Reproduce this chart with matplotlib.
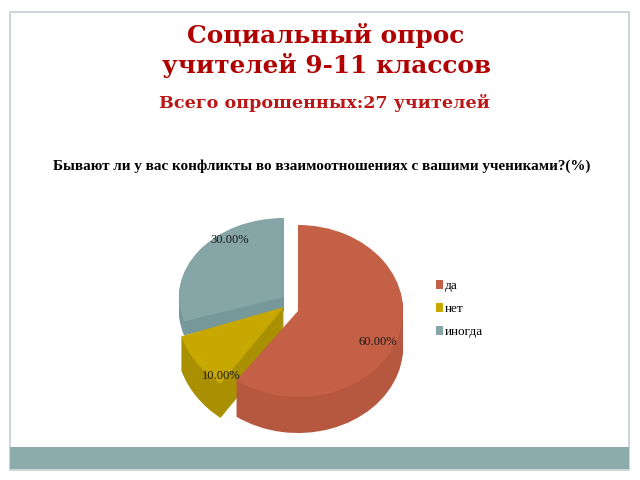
import matplotlib
matplotlib.use('Agg')
import matplotlib.pyplot as plt
from matplotlib.patches import Rectangle, Patch
from matplotlib.transforms import Affine2D

# chart data
labels = ['да', 'нет', 'иногда']
values = [60, 10, 30]
value_labels = ['60.00%', '10.00%', '30.00%']

top_colors = ['#c46045', '#c6a800', '#86a5a6']
side_colors = ['#b5583f', '#a89000', '#76989a']

title_lines = ['Социальный опрос', 'учителей 9-11 классов']
subtitle = 'Всего опрошенных:27 учителей'
question = 'Бывают ли у вас конфликты во взаимоотношениях с вашими учениками?(%)'

fig = plt.figure(figsize=(6.4, 4.8), dpi=100)
ax = fig.add_axes([0, 0, 1, 1])


def draw_slice(idx, cx, cy, rx, ry, color, zorder):
    # one pie call per slice, the other slices stay invisible
    cols = ['none'] * len(values)
    cols[idx] = color
    wedges, _ = ax.pie(values, colors=cols, startangle=90, counterclock=False)
    for w in wedges:
        w.set_transform(Affine2D().scale(rx, ry).translate(cx, 480 - cy) + ax.transData)
        w.set_zorder(zorder)
        w.set_linewidth(0)


# blue slice, side first then the top
for d in range(14, 0, -1):
    draw_slice(2, 284, 297 + d, 105, 79, side_colors[2], 2)
draw_slice(2, 284, 297, 105, 79, top_colors[2], 3)

# yellow slice
for d in range(34, 0, -1):
    draw_slice(1, 284, 307 + d, 108, 95, side_colors[1], 4)
draw_slice(1, 284, 307, 108, 95, top_colors[1], 5)

# red slice
for d in range(36, 0, -1):
    draw_slice(0, 298, 311 + d, 105, 86, side_colors[0], 6)
draw_slice(0, 298, 311, 105, 86, top_colors[0], 7)

ax.set_aspect('auto')
ax.set_xlim(0, 640)
ax.set_ylim(0, 480)
ax.axis('off')

# slide frame and bottom bar
ax.add_patch(Rectangle((10, 480 - 470), 619, 458, fill=False, ec='#c4cfd0', lw=1.2, zorder=1))
ax.add_patch(Rectangle((10, 480 - 469), 619, 22, fc='#8bacaa', ec='none', zorder=1))

red = '#b00000'
ax.text(326, 480 - 36, title_lines[0], family='DejaVu Serif', weight='bold', fontsize=17.8,
        color=red, ha='center', va='center')
ax.text(326, 480 - 66, title_lines[1], family='DejaVu Serif', weight='bold', fontsize=17.8,
        color=red, ha='center', va='center')
ax.text(324, 480 - 103, subtitle, family='DejaVu Serif', weight='bold', fontsize=12.6,
        color='#bb1515', ha='center', va='center')
ax.text(322, 480 - 166, question, family='Liberation Serif', weight='bold', fontsize=10.9,
        color='black', ha='center', va='center')

label_pos = [(378, 342), (221, 376), (230, 240)]
for txt, (x, y) in zip(value_labels, label_pos):
    ax.text(x, 480 - y, txt, family='Liberation Serif', fontsize=9, color='#1a1a1a',
            ha='center', va='center', zorder=10)

handles = [Patch(fc=c, ec='none') for c in top_colors]
ax.legend(handles, labels, loc='upper left', bbox_to_anchor=(436 / 640, 1 - 280 / 480),
          frameon=False, prop={'family': 'Liberation Serif', 'size': 9.5},
          handlelength=0.5, handleheight=0.7, handletextpad=0.15, labelspacing=0.8,
          borderpad=0, borderaxespad=0)

fig.savefig('out.png', dpi=100)
